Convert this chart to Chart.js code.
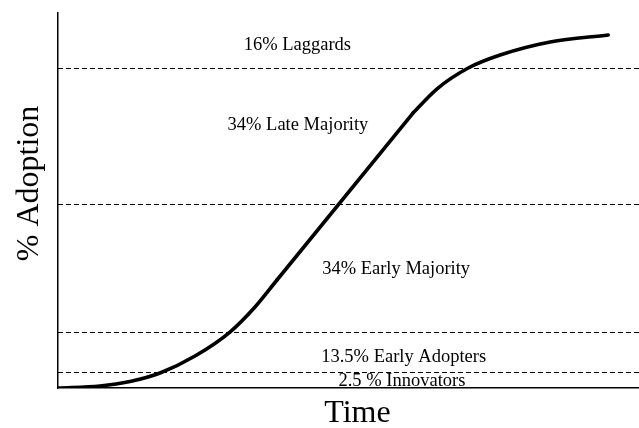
<!DOCTYPE html>
<html>
<head>
<meta charset="utf-8">
<script src="https://cdn.jsdelivr.net/npm/chart.js@4.4.1/dist/chart.umd.min.js"></script>
<style>
  html, body { margin: 0; padding: 0; background: #ffffff; }
  #wrap { width: 639px; height: 428px; position: relative; }
</style>
</head>
<body>
<div id="wrap"><canvas id="c"></canvas></div>
<script>
// Adoption curve (time in arbitrary units, adoption in % of axis height)
const curveTime     = [0, 7.23, 12.39, 17.56, 23.58, 29.6, 33.91, 37.69, 61.1, 65.2, 70.6, 76.1, 84.7, 94.7];
const curveAdoption = [0, 0.53, 1.73, 4.0, 8.53, 14.93, 21.6, 28.8, 73.33, 79.73, 85.33, 88.8, 92.27, 94.13];
// The curve is drawn in three pieces: slow start, straight take-off, saturation
const takeoffStart = 7;   // index where the straight part begins
const takeoffEnd   = 8;   // index where the straight part ends

// Segment boundaries (dashed lines)
const boundaryLevels = [4.13, 14.8, 48.93, 85.2];

// Segment labels
const segmentNames  = ["16% Laggards", "34% Late Majority", "34% Early Majority", "13.5% Early Adopters", "2.5 % Innovators"];
const segmentTime   = [41.2, 41.3, 58.2, 59.5, 59.2];
const segmentLevel  = [91.5, 70.1, 31.8, 8.2, 1.9];

const axisTitleX = "Time";
const axisTitleY = "% Adoption";

const serif = "'Liberation Serif', 'Times New Roman', serif";

const pts = curveTime.map((t, i) => ({ x: t, y: curveAdoption[i] }));
const curveStyle = {
  borderColor: '#000',
  borderWidth: 3.6,
  pointRadius: 0,
  fill: false,
  borderCapStyle: 'round',
  order: 0
};

const datasets = [
  Object.assign({ label: 'Adoption (start)', data: pts.slice(0, takeoffStart + 1), cubicInterpolationMode: 'monotone' }, curveStyle),
  Object.assign({ label: 'Adoption (take-off)', data: pts.slice(takeoffStart, takeoffEnd + 1), tension: 0 }, curveStyle),
  Object.assign({ label: 'Adoption (saturation)', data: pts.slice(takeoffEnd), cubicInterpolationMode: 'monotone' }, curveStyle)
];
boundaryLevels.forEach(v => {
  datasets.push({
    label: 'boundary',
    data: [{ x: 0, y: v }, { x: 100, y: v }],
    borderColor: '#000',
    borderWidth: 1,
    borderDash: [5, 3],
    pointRadius: 0,
    tension: 0,
    fill: false,
    order: 1
  });
});

const labelPlugin = {
  id: 'segmentLabels',
  afterDatasetsDraw(chart) {
    const { ctx, chartArea, scales: { x, y } } = chart;
    ctx.save();
    ctx.fillStyle = '#000';
    ctx.font = "18.5px " + serif;
    ctx.textAlign = 'center';
    ctx.textBaseline = 'middle';
    segmentNames.forEach((name, i) => {
      ctx.fillText(name, x.getPixelForValue(segmentTime[i]), y.getPixelForValue(segmentLevel[i]));
    });
    // axis titles
    ctx.font = "32px " + serif;
    ctx.textBaseline = 'alphabetic';
    ctx.fillText(axisTitleX, chartArea.left + 299.5, chartArea.bottom + 34);
    ctx.translate(chartArea.left - 28, chartArea.top + 170.5);
    ctx.rotate(-Math.PI / 2);
    ctx.textBaseline = 'middle';
    ctx.fillText(axisTitleY, 0, 0);
    ctx.restore();
  }
};

new Chart(document.getElementById('c'), {
  type: 'line',
  data: { datasets },
  options: {
    responsive: true,
    maintainAspectRatio: false,
    animation: false,
    layout: { padding: { top: 13, right: 0, left: 0, bottom: 0 } },
    plugins: { legend: { display: false }, tooltip: { enabled: false } },
    scales: {
      x: {
        type: 'linear',
        min: 0, max: 100,
        grid: { display: false, drawTicks: false },
        border: { display: true, color: '#000', width: 1.5 },
        ticks: { display: false },
        afterFit(scale) { scale.height = 40; }
      },
      y: {
        type: 'linear',
        min: 0, max: 100,
        grid: { display: false, drawTicks: false },
        border: { display: true, color: '#000', width: 1.5 },
        ticks: { display: false },
        afterFit(scale) { scale.width = 58; }
      }
    }
  },
  plugins: [labelPlugin]
});
</script>
</body>
</html>
